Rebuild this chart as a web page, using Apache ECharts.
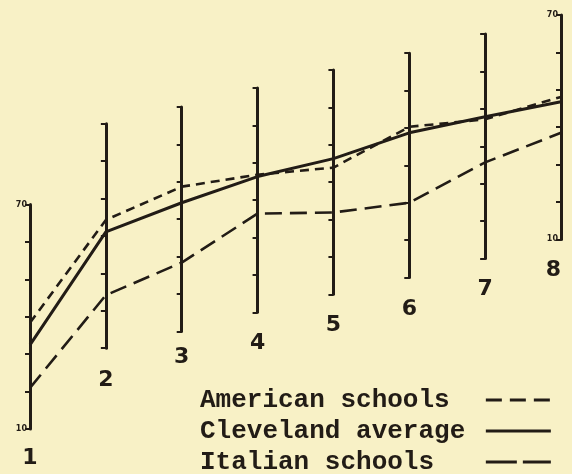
<!DOCTYPE html>
<html>
<head>
<meta charset="utf-8">
<script src="https://cdn.jsdelivr.net/npm/echarts@6/dist/echarts.min.js"></script>
<style>
  html, body { margin: 0; padding: 0; background: #f8f1c6; }
  #chart { width: 572px; height: 474px; }
</style>
</head>
<body>
<div id="chart"></div>
<script>
// 年级 (each grade has its own 10-70 scale, drawn higher and higher)
const grades = ['1', '2', '3', '4', '5', '6', '7', '8'];
const americanSchools = [38.4, 44.3, 48.7, 46.8, 43.9, 50.3, 47.2, 48.1];
const clevelandAverage = [32.5, 41.1, 44.4, 46.3, 46.3, 48.7, 47.9, 46.8];
const italianSchools = [21.0, 24.2, 28.4, 36.4, 31.9, 30.0, 35.7, 38.5];
// how far each grade's scale is raised, in score units
const scaleLift = [0, 21.6, 26.1, 31.2, 36.0, 40.5, 45.6, 50.7];
const scaleMin = 10;
const scaleMax = 70;

document.addEventListener('DOMContentLoaded', function () {
    initChart();
});

function initChart() {
    const chartDom = document.getElementById('chart');
    const myChart = echarts.init(chartDom);

    const ink = '#221c16';
    const plotLeft = 30, plotRight = 561, plotTop = 15, plotBottom = 429;
    const yTop = scaleMax + Math.max.apply(null, scaleLift);
    const unitPx = (plotBottom - plotTop) / (yTop - scaleMin);
    const stepX = (plotRight - plotLeft) / (grades.length - 1);
    // distance of the grade number below each scale
    const numberGap = [18, 21, 15, 20, 20, 21, 20, 20];

    // grid 0 carries the three lines
    const grid = [{ left: plotLeft, top: plotTop, width: plotRight - plotLeft, height: plotBottom - plotTop }];
    const xAxis = [{ gridIndex: 0, type: 'value', min: 1, max: grades.length, show: false }];
    const yAxis = [{ gridIndex: 0, type: 'value', min: scaleMin, max: yTop, show: false }];

    // one little grid per grade for its own scale
    grades.forEach(function (g, i) {
        const last = i === grades.length - 1;
        const showLabels = (i === 0 || last);
        grid.push({
            left: plotLeft + i * stepX,
            top: plotTop + (yTop - scaleMax - scaleLift[i]) * unitPx,
            width: 4,
            height: (scaleMax - scaleMin) * unitPx
        });
        xAxis.push({ gridIndex: i + 1, type: 'value', min: 0, max: 1, show: false });
        yAxis.push({
            gridIndex: i + 1,
            type: 'value',
            min: scaleMin,
            max: scaleMax,
            interval: 10,
            position: 'left',
            splitLine: { show: false },
            axisLine: { show: true, lineStyle: { color: ink, width: 3, cap: 'round' } },
            axisTick: { show: true, length: 5, lineStyle: { color: ink, width: 2 } },
            axisLabel: {
                show: showLabels,
                color: ink,
                fontSize: 8,
                fontWeight: 'bold',
                fontFamily: 'DejaVu Sans',
                margin: 3,
                formatter: function (v) {
                    return (v === scaleMin || v === scaleMax) ? String(v) : '';
                }
            },
            name: g,
            nameLocation: 'start',
            nameGap: numberGap[i],
            nameTextStyle: {
                color: ink,
                fontSize: 22,
                fontWeight: 'bold',
                fontFamily: 'DejaVu Sans',
                align: last ? 'right' : 'center'
            }
        });
    });

    function toPoints(values) {
        return values.map(function (v, i) { return [i + 1, v + scaleLift[i]]; });
    }

    function lineSeries(name, values, dash) {
        return {
            name: name,
            type: 'line',
            xAxisIndex: 0,
            yAxisIndex: 0,
            data: toPoints(values),
            symbol: 'none',
            silent: true,
            lineStyle: {
                color: ink,
                width: dash ? 2.6 : 3,
                type: dash || 'solid'
            },
            itemStyle: { color: ink }
        };
    }

    const option = {
        backgroundColor: '#f8f1c6',
        animation: false,
        grid: grid,
        xAxis: xAxis,
        yAxis: yAxis,
        legend: {
            left: 200,
            top: 387,
            height: 100,
            padding: 0,
            orient: 'vertical',
            align: 'right',
            itemWidth: 65,
            itemHeight: 10,
            itemGap: 5,
            itemStyle: { opacity: 0 },
            textStyle: {
                color: ink,
                fontSize: 26,
                lineHeight: 26,
                fontWeight: 'bold',
                fontFamily: 'Liberation Mono'
            },
            formatter: function (name) { return name.padEnd(18, ' '); },
            data: [
                { name: 'American schools', lineStyle: { width: 3, type: [16, 8] } },
                { name: 'Cleveland average', lineStyle: { width: 3 } },
                { name: 'Italian schools', lineStyle: { width: 3, type: [31, 6] } }
            ]
        },
        series: [
            lineSeries('American schools', americanSchools, [9, 6]),
            lineSeries('Cleveland average', clevelandAverage),
            lineSeries('Italian schools', italianSchools, [17, 8])
        ]
    };

    myChart.setOption(option);
}
</script>
</body>
</html>
